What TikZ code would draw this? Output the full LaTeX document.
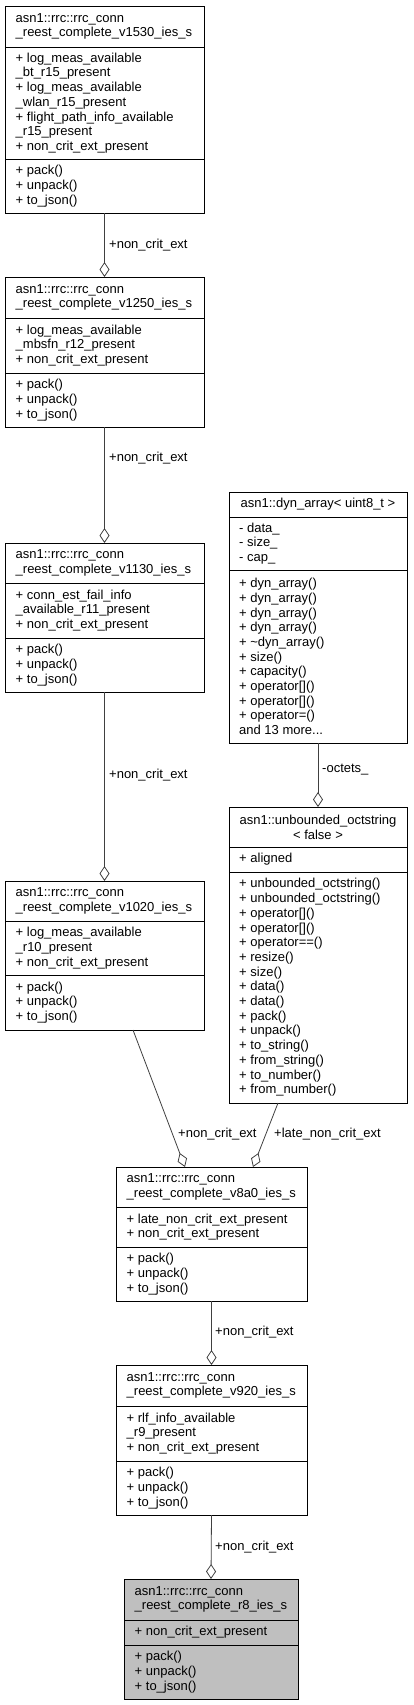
\documentclass[tikz,border=0pt]{standalone}
\usepackage{fontspec}
\setmainfont{Liberation Sans}
\usetikzlibrary{arrows.meta}
\newcommand\umlfnt{\fontsize{13}{14.7}\selectfont}
\definecolor{edgegray}{RGB}{64,64,64}
\definecolor{boxgray}{RGB}{191,191,191}
\tikzset{
  box/.style={draw=black, line width=0.8pt, fill=white, anchor=north west, inner sep=0pt, outer sep=0pt},
  sepline/.style={draw=black, line width=0.8pt},
  txt/.style={anchor=west, align=left, inner sep=0pt, font=\umlfnt},
  ctxt/.style={anchor=center, align=center, inner sep=0pt, font=\umlfnt},
  edge/.style={draw=edgegray, line width=0.8pt, -{Diamond[open, length=15pt, width=10pt]}},
  elabel/.style={anchor=west, inner sep=0pt, font=\umlfnt}
}
\begin{document}
\begin{tikzpicture}[x=1pt, y=-1pt]
\useasboundingbox (0,0) rectangle (413,1705);

% v1530
\node[box, minimum width=199pt, minimum height=207pt] (v1530) at (5,6) {};
\draw[sepline] (5,47) -- (204,47);
\draw[sepline] (5,159) -- (204,159);
\node[txt] (v1530t) at (15.5,26.5) {asn1::rrc::rrc\_conn\\\_reest\_complete\_v1530\_ies\_s};
\node[txt] (v1530a) at (15.5,103) {+ log\_meas\_available\\\_bt\_r15\_present\\+ log\_meas\_available\\\_wlan\_r15\_present\\+ flight\_path\_info\_available\\\_r15\_present\\+ non\_crit\_ext\_present};
\node[txt] (v1530m) at (15.5,186) {+ pack()\\+ unpack()\\+ to\_json()};

% v1250
\node[box, minimum width=199pt, minimum height=150pt] (v1250) at (5,277) {};
\draw[sepline] (5,318) -- (204,318);
\draw[sepline] (5,373) -- (204,373);
\node[txt] (v1250t) at (15.5,297.5) {asn1::rrc::rrc\_conn\\\_reest\_complete\_v1250\_ies\_s};
\node[txt] (v1250a) at (15.5,345.5) {+ log\_meas\_available\\\_mbsfn\_r12\_present\\+ non\_crit\_ext\_present};
\node[txt] (v1250m) at (15.5,400) {+ pack()\\+ unpack()\\+ to\_json()};

% v1130
\node[box, minimum width=199pt, minimum height=149pt] (v1130) at (5,543) {};
\draw[sepline] (5,583) -- (204,583);
\draw[sepline] (5,638) -- (204,638);
\node[txt] (v1130t) at (15.5,563) {asn1::rrc::rrc\_conn\\\_reest\_complete\_v1130\_ies\_s};
\node[txt] (v1130a) at (15.5,610.5) {+ conn\_est\_fail\_info\\\_available\_r11\_present\\+ non\_crit\_ext\_present};
\node[txt] (v1130m) at (15.5,665) {+ pack()\\+ unpack()\\+ to\_json()};

% v1020
\node[box, minimum width=199pt, minimum height=149pt] (v1020) at (5,881) {};
\draw[sepline] (5,921) -- (204,921);
\draw[sepline] (5,975) -- (204,975);
\node[txt] (v1020t) at (15.5,901) {asn1::rrc::rrc\_conn\\\_reest\_complete\_v1020\_ies\_s};
\node[txt] (v1020a) at (15.5,948) {+ log\_meas\_available\\\_r10\_present\\+ non\_crit\_ext\_present};
\node[txt] (v1020m) at (15.5,1002.5) {+ pack()\\+ unpack()\\+ to\_json()};

% dyn_array
\node[box, minimum width=178pt, minimum height=251pt] (dyn) at (229,492) {};
\draw[sepline] (229,517) -- (407,517);
\draw[sepline] (229,570) -- (407,570);
\node[ctxt] (dynt) at (318,504.5) {asn1::dyn\_array< uint8\_t >};
\node[txt] (dyna) at (239,543.5) {- data\_\\- size\_\\- cap\_};
\node[txt] (dynm) at (239,656.5) {+ dyn\_array()\\+ dyn\_array()\\+ dyn\_array()\\+ dyn\_array()\\+ \textasciitilde dyn\_array()\\+ size()\\+ capacity()\\+ operator[]()\\+ operator[]()\\+ operator=()\\and 13 more...};

% unbounded_octstring
\node[box, minimum width=178pt, minimum height=296pt] (uoct) at (229,807) {};
\draw[sepline] (229,847) -- (407,847);
\draw[sepline] (229,872) -- (407,872);
\node[ctxt] (uoctt) at (318,827) {asn1::unbounded\_octstring\\< false >};
\node[txt] (uocta) at (239,859.5) {+ aligned};
\node[txt] (uoctm) at (239,987.5) {+ unbounded\_octstring()\\+ unbounded\_octstring()\\+ operator[]()\\+ operator[]()\\+ operator==()\\+ resize()\\+ size()\\+ data()\\+ data()\\+ pack()\\+ unpack()\\+ to\_string()\\+ from\_string()\\+ to\_number()\\+ from\_number()};

% v8a0
\node[box, minimum width=191pt, minimum height=134pt] (v8a0) at (116,1167) {};
\draw[sepline] (116,1207) -- (307,1207);
\draw[sepline] (116,1247) -- (307,1247);
\node[txt] (v8a0t) at (126.5,1187) {asn1::rrc::rrc\_conn\\\_reest\_complete\_v8a0\_ies\_s};
\node[txt] (v8a0a) at (126.5,1227) {+ late\_non\_crit\_ext\_present\\+ non\_crit\_ext\_present};
\node[txt] (v8a0m) at (126.5,1274) {+ pack()\\+ unpack()\\+ to\_json()};

% v920
\node[box, minimum width=191pt, minimum height=150pt] (v920) at (116,1365) {};
\draw[sepline] (116,1406) -- (307,1406);
\draw[sepline] (116,1461) -- (307,1461);
\node[txt] (v920t) at (126.5,1385.5) {asn1::rrc::rrc\_conn\\\_reest\_complete\_v920\_ies\_s};
\node[txt] (v920a) at (126.5,1433.5) {+ rlf\_info\_available\\\_r9\_present\\+ non\_crit\_ext\_present};
\node[txt] (v920m) at (126.5,1488) {+ pack()\\+ unpack()\\+ to\_json()};

% r8
\node[box, fill=boxgray, minimum width=174pt, minimum height=120pt] (r8) at (124,1579) {};
\draw[sepline] (124,1620) -- (298,1620);
\draw[sepline] (124,1645) -- (298,1645);
\node[txt] (r8t) at (134.5,1599.5) {asn1::rrc::rrc\_conn\\\_reest\_complete\_r8\_ies\_s};
\node[txt] (r8a) at (134.5,1632.5) {+ non\_crit\_ext\_present};
\node[txt] (r8m) at (134.5,1672) {+ pack()\\+ unpack()\\+ to\_json()};

% connectors
\draw[edge] (v1530.south) -- (v1250.north);
\node[elabel] (l1) at (109,245) {+non\_crit\_ext};
\draw[edge] (v1250.south) -- (v1130.north);
\node[elabel] (l2) at (109,458) {+non\_crit\_ext};
\draw[edge] (v1130.south) -- (v1020.north);
\node[elabel] (l3) at (109,775) {+non\_crit\_ext};
\draw[edge] (dyn.south) -- (uoct.north);
\node[elabel] (l4) at (322,770) {-octets\_};
\draw[edge] ([xshift=128pt]v1020.south west) -- ([xshift=69pt]v8a0.north west);
\node[elabel] (l5) at (178,1134) {+non\_crit\_ext};
\draw[edge] ([xshift=49pt]uoct.south west) -- ([xshift=137pt]v8a0.north west);
\node[elabel] (l6) at (274,1134) {+late\_non\_crit\_ext};
\draw[edge] (v8a0.south) -- (v920.north);
\node[elabel] (l7) at (215,1332) {+non\_crit\_ext};
\draw[edge] (v920.south) -- (r8.north);
\node[elabel] (l8) at (215,1547) {+non\_crit\_ext};
\end{tikzpicture}
\end{document}
